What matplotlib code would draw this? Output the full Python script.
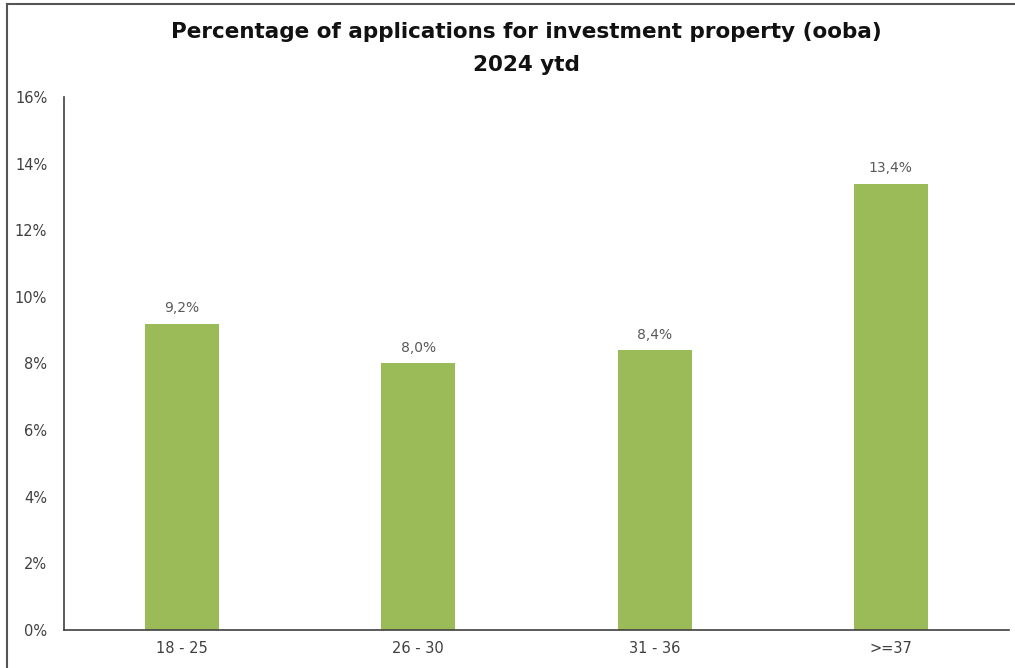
import matplotlib.pyplot as plt
from matplotlib.lines import Line2D

categorias = ['18 - 25', '26 - 30', '31 - 36', '>=37']
percentuais = [9.2, 8.0, 8.4, 13.4]
rotulos = ['9,2%', '8,0%', '8,4%', '13,4%']
ticks_y = [0, 2, 4, 6, 8, 10, 12, 14, 16]

fig = plt.figure(figsize=(10.15, 6.68), dpi=100)
ax = fig.add_axes([0.063, 0.0569, 0.931, 0.7979])

x = range(len(categorias))
ax.bar(x, percentuais, width=0.313, color='#9bbb59')
for i, v in enumerate(percentuais):
    ax.text(i, v + 0.25, rotulos[i], ha='center', va='bottom', fontsize=10, color='#595959')

ax.set_xlim(-0.5, 3.5)
ax.set_ylim(0, 16)
ax.set_xticks(list(x))
ax.set_xticklabels(categorias, fontsize=10.5, color='#404040')
ax.set_yticks(ticks_y)
ax.set_yticklabels([f'{t}%' for t in ticks_y], fontsize=10.5, color='#404040')
ax.tick_params(length=0, pad=12)
ax.tick_params(axis='x', pad=8)
for s in ['top', 'right']:
    ax.spines[s].set_visible(False)
for s in ['left', 'bottom']:
    ax.spines[s].set_color('#404040')
    ax.spines[s].set_linewidth(1.2)

fig.text(0.519, 0.952, 'Percentage of applications for investment property (ooba)',
         ha='center', va='center', fontsize=15.5, fontweight='bold', color='#111111')
fig.text(0.519, 0.902, '2024 ytd',
         ha='center', va='center', fontsize=15.5, fontweight='bold', color='#111111')

# moldura em volta da figura
fig.add_artist(Line2D([0.007, 0.007], [0, 0.994], transform=fig.transFigure, color='#555555', lw=1.5))
fig.add_artist(Line2D([0.007, 1], [0.994, 0.994], transform=fig.transFigure, color='#555555', lw=1.5))

plt.savefig('out.png')
